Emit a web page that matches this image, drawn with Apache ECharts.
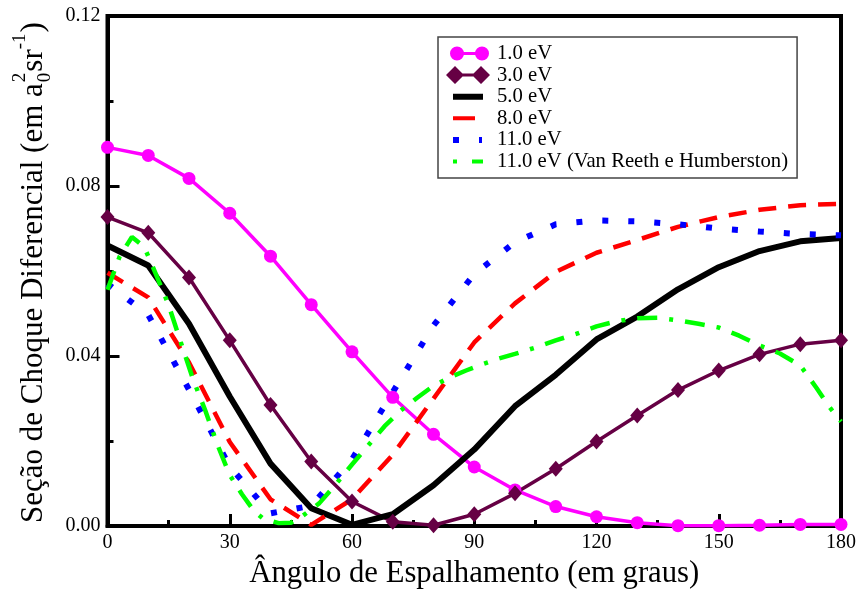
<!DOCTYPE html>
<html>
<head>
<meta charset="utf-8">
<script src="https://cdn.jsdelivr.net/npm/echarts@6/dist/echarts.min.js"></script>
<style>
html,body{margin:0;padding:0;background:#fff;}
#chart{width:859px;height:594px;}
</style>
</head>
<body>
<div id="chart"></div>
<script>
// ---- data ----
const angles = [0,10,20,30,40,50,60,70,80,90,100,110,120,130,140,150,160,170,180];
const e1  = [0.0891,0.0872,0.0818,0.0736,0.0635,0.0521,0.0410,0.0303,0.0216,0.0139,0.0085,0.0046,0.0022,0.0008,0.0001,0.0001,0.0002,0.0004,0.0004];
const e3  = [0.0727,0.0690,0.0585,0.0437,0.0285,0.0152,0.0058,0.0010,0.0002,0.0028,0.0077,0.0135,0.0199,0.0260,0.0320,0.0366,0.0404,0.0428,0.0437];
const e5  = [0.0660,0.0613,0.0476,0.0305,0.0147,0.0042,0.0003,0.0028,0.0096,0.0180,0.0282,0.0356,0.0439,0.0493,0.0557,0.0609,0.0647,0.0670,0.0678];
const e8  = [0.0596,0.0538,0.0385,0.0198,0.0063,0.0003,0.0063,0.0168,0.0300,0.0432,0.0524,0.0598,0.0643,0.0673,0.0704,0.0727,0.0744,0.0755,0.0758];
const e11 = [0.0570,0.0497,0.0321,0.0140,0.0030,0.0048,0.0157,0.0315,0.0472,0.0593,0.0668,0.0710,0.0719,0.0717,0.0710,0.0700,0.0693,0.0687,0.0684];
const vrAngles = [0,3,6,9,12,15,18,21,24,27,30,33,36,38,42,45,48,52,56,60,64,68,72,76,80,84,88,92,96,100,105,110,115,120,125,130,135,140,145,150,155,160,165,170,174,177,180];
const vrValues = [0.0556,0.0635,0.0680,0.0657,0.0590,0.0520,0.0432,0.0345,0.0272,0.0191,0.0120,0.0075,0.0035,0.0019,0.0007,0.0008,0.0025,0.0054,0.0098,0.0145,0.0190,0.0235,0.0272,0.0302,0.0330,0.0350,0.0366,0.0381,0.0394,0.0405,0.0420,0.0437,0.0452,0.0470,0.0482,0.0489,0.0490,0.0484,0.0476,0.0467,0.0448,0.0425,0.0406,0.0378,0.0325,0.0282,0.0246];
const seriesNames = ['1.0 eV','3.0 eV','5.0 eV','8.0 eV','11.0 eV','11.0 eV (Van Reeth e Humberston)'];
const xTicks = [0,30,60,90,120,150,180];
const yTicks = [0.00,0.04,0.08,0.12];
const xTitle = 'Ângulo de Espalhamento (em graus)';
const yTitleMain = 'Seção de Choque Diferencial (em a';
const yTitleSub = '0';
const yTitleSup = '2';
const yTitleUnit = 'sr';
const yTitleUnitSup = '-1';
const yTitleClose = ')';

const FONT = '"Liberation Serif", "Times New Roman", serif';
const pair = (xs, ys) => xs.map((x, i) => [x, ys[i]]);

// legend icons (drawn in a 44x18 box; tiny corner squares fix the box)
const box = 'M0 0L0.02 0L0.02 0.02L0 0.02ZM43.98 17.98L44 17.98L44 18L43.98 18Z';
const icons = [
  box + 'M4 9A7 7 0 1 1 18 9A7 7 0 1 1 4 9ZM11 7.5L36 7.5L36 10.5L11 10.5ZM29 9A7 7 0 1 1 43 9A7 7 0 1 1 29 9Z',
  box + 'M0 9L9 0L18 9L9 18ZM9 7.5L35 7.5L35 10.5L9 10.5ZM26 9L35 0L44 9L35 18Z',
  box + 'M7 6L37 6L37 12L7 12Z',
  box + 'M7 7L29 7L29 11L7 11Z',
  box + 'M7 6L13 6L13 12L7 12ZM33 6L36 6L36 12L33 12Z',
  box + 'M7 7L11 7L11 11L7 11ZM26 7L37 7L37 11L26 11Z'
];

// y-axis title (rotated, with stacked sub/superscript)
const cv = document.createElement('canvas').getContext('2d');
function tw(t, s){ cv.font = s + 'px "Liberation Serif"'; return cv.measureText(t).width; }
const TS = 31, SS = 19;
const w1 = tw(yTitleMain, TS);
const wSS = Math.max(tw(yTitleSub, SS), tw(yTitleSup, SS));
const wU = tw(yTitleUnit, TS);
const wUS = tw(yTitleUnitSup, SS);
const tStyle = (t, s) => ({text: t, fontSize: s, fontFamily: FONT, fill: '#000', align: 'left', verticalAlign: 'middle'});
const yTitleGroup = {
  type: 'group', x: 34, y: 523, rotation: Math.PI / 2, silent: true,
  children: [
    {type: 'text', x: 0, y: 0, style: tStyle(yTitleMain, TS)},
    {type: 'text', x: w1 + 1, y: 11, style: tStyle(yTitleSub, SS)},
    {type: 'text', x: w1 + 1, y: -14, style: tStyle(yTitleSup, SS)},
    {type: 'text', x: w1 + wSS + 2, y: 0, style: tStyle(yTitleUnit, TS)},
    {type: 'text', x: w1 + wSS + wU + 2, y: -14, style: tStyle(yTitleUnitSup, SS)},
    {type: 'text', x: w1 + wSS + wU + wUS + 3, y: 0, style: tStyle(yTitleClose, TS)}
  ]
};

const chart = echarts.init(document.getElementById('chart'), null, {renderer: 'canvas'});
const axisCommon = {
  axisLine: {show: true, lineStyle: {color: '#000', width: 4}},
  axisTick: {show: true, inside: true, length: 12, lineStyle: {color: '#000', width: 3}},
  minorTick: {show: true, splitNumber: 2, length: 6, lineStyle: {color: '#000', width: 3}},
  splitLine: {show: false},
  minorSplitLine: {show: false}
};
chart.setOption({
  animation: false,
  backgroundColor: '#fff',
  grid: {left: 107.5, right: 17, top: 16, bottom: 64.5, show: true, borderColor: '#000', borderWidth: 4, backgroundColor: 'transparent'},
  xAxis: Object.assign({
    type: 'value', min: xTicks[0], max: xTicks[xTicks.length - 1], interval: xTicks[1] - xTicks[0],
    axisLabel: {color: '#000', fontSize: 20, fontFamily: FONT, margin: 7},
    name: xTitle, nameLocation: 'middle', nameGap: 27,
    nameTextStyle: {color: '#000', fontSize: 30.7, fontFamily: FONT}
  }, axisCommon),
  yAxis: Object.assign({
    type: 'value', min: yTicks[0], max: yTicks[yTicks.length - 1], interval: yTicks[1] - yTicks[0],
    axisLabel: {color: '#000', fontSize: 20, fontFamily: FONT, margin: 7, formatter: v => v.toFixed(2)}
  }, axisCommon),
  legend: {
    orient: 'vertical', left: 438, top: 37,
    padding: [6, 9, 6, 8], itemWidth: 44, itemHeight: 18, itemGap: 0.6,
    borderColor: '#444', borderWidth: 1.5, backgroundColor: '#fff',
    selectedMode: false,
    textStyle: {color: '#000', fontSize: 20.7, lineHeight: 20, fontFamily: FONT, padding: [0, 0, 0, 2]},
    data: seriesNames.map((n, i) => ({name: n, icon: 'path://' + icons[i]}))
  },
  graphic: [yTitleGroup],
  series: [
    {name: seriesNames[0], type: 'line', data: pair(angles, e1), symbol: 'circle', symbolSize: 13,
      itemStyle: {color: '#ff00ff'}, lineStyle: {color: '#ff00ff', width: 3.5}, z: 2},
    {name: seriesNames[1], type: 'line', data: pair(angles, e3), symbol: 'diamond', symbolSize: [14, 16],
      itemStyle: {color: '#660044'}, lineStyle: {color: '#660044', width: 3.5}, z: 2},
    {name: seriesNames[2], type: 'line', data: pair(angles, e5), showSymbol: false, symbol: 'none',
      itemStyle: {color: '#000'}, lineStyle: {color: '#000', width: 6}, z: 2},
    {name: seriesNames[3], type: 'line', data: pair(angles, e8), showSymbol: false, symbol: 'none',
      itemStyle: {color: '#ff0000'}, lineStyle: {color: '#ff0000', width: 4.5, type: [18, 12]}, z: 2},
    {name: seriesNames[4], type: 'line', data: pair(angles, e11), showSymbol: false, symbol: 'none',
      itemStyle: {color: '#0000ff'}, lineStyle: {color: '#0000ff', width: 6, type: [6, 20]}, z: 2},
    {name: seriesNames[5], type: 'line', data: pair(vrAngles, vrValues), showSymbol: false, symbol: 'none',
      itemStyle: {color: '#00ff00'}, lineStyle: {color: '#00ff00', width: 4.5, type: [20, 12, 4, 12]}, z: 2}
  ]
});
</script>
</body>
</html>
